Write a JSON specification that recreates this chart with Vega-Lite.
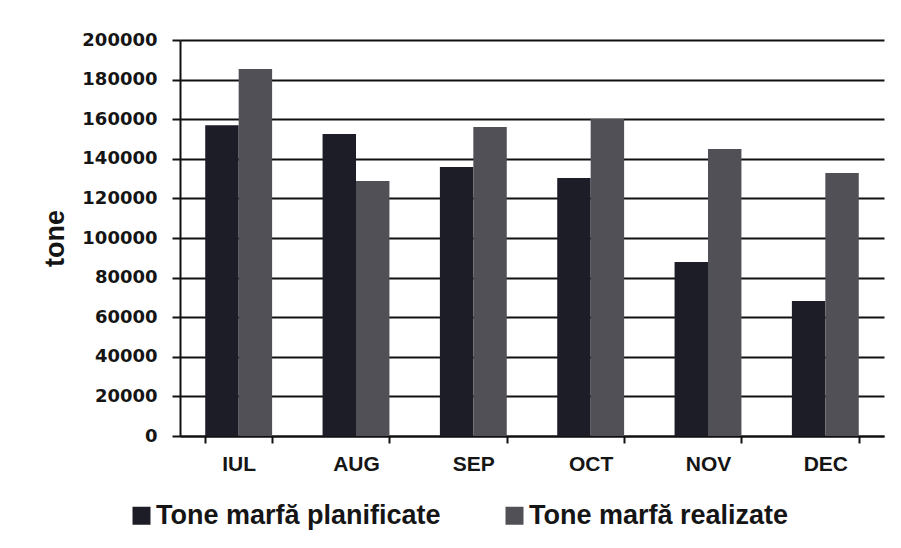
{
  "$schema": "https://vega.github.io/schema/vega-lite/v6.json",
  "width": 704,
  "height": 396,
  "autosize": {"type": "none"},
  "padding": {"left": 180, "top": 40, "right": 17, "bottom": 112},
  "background": "white",
  "config": {
    "font": "Liberation Sans",
    "view": {"stroke": null}
  },
  "data": {
    "values": [
      {"luna": "IUL", "serie": "Tone marfă planificate", "tone": 157000},
      {"luna": "IUL", "serie": "Tone marfă realizate", "tone": 185300},
      {"luna": "AUG", "serie": "Tone marfă planificate", "tone": 152500},
      {"luna": "AUG", "serie": "Tone marfă realizate", "tone": 128800},
      {"luna": "SEP", "serie": "Tone marfă planificate", "tone": 135900},
      {"luna": "SEP", "serie": "Tone marfă realizate", "tone": 156000},
      {"luna": "OCT", "serie": "Tone marfă planificate", "tone": 130300},
      {"luna": "OCT", "serie": "Tone marfă realizate", "tone": 160100},
      {"luna": "NOV", "serie": "Tone marfă planificate", "tone": 87900},
      {"luna": "NOV", "serie": "Tone marfă realizate", "tone": 145000},
      {"luna": "DEC", "serie": "Tone marfă planificate", "tone": 68200},
      {"luna": "DEC", "serie": "Tone marfă realizate", "tone": 132800}
    ]
  },
  "mark": {"type": "bar"},
  "encoding": {
    "x": {
      "field": "luna",
      "type": "nominal",
      "sort": ["IUL", "AUG", "SEP", "OCT", "NOV", "DEC"],
      "scale": {"paddingInner": 0.43, "paddingOuter": 0.215},
      "axis": {
        "title": null,
        "labelAngle": 0,
        "labelFont": "Liberation Sans",
        "labelFontWeight": "bold",
        "labelFontSize": 21,
        "labelColor": "#151515",
        "labelPadding": 10,
        "domainColor": "#111",
        "domainWidth": 2,
        "tickColor": "#111",
        "tickWidth": 2,
        "tickBand": "extent",
        "tickSize": 7,
        "grid": false
      }
    },
    "xOffset": {
      "field": "serie",
      "type": "nominal",
      "scale": {"paddingInner": 0}
    },
    "y": {
      "field": "tone",
      "type": "quantitative",
      "scale": {"domain": [0, 200000]},
      "axis": {
        "title": "tone",
        "titleFont": "Liberation Sans",
        "titleFontWeight": "bold",
        "titleFontSize": 27,
        "titleColor": "#151515",
        "titlePadding": 12,
        "values": [0, 20000, 40000, 60000, 80000, 100000, 120000, 140000, 160000, 180000, 200000],
        "format": "d",
        "labelFont": "DejaVu Sans",
        "labelFontWeight": "bold",
        "labelFontSize": 18,
        "labelColor": "#151515",
        "labelPadding": 15,
        "domainColor": "#111",
        "domainWidth": 2,
        "tickColor": "#111",
        "tickWidth": 2,
        "tickSize": 8,
        "grid": true,
        "gridColor": "#111",
        "gridWidth": 2,
        "gridOpacity": 1
      }
    },
    "color": {
      "field": "serie",
      "type": "nominal",
      "scale": {
        "domain": ["Tone marfă planificate", "Tone marfă realizate"],
        "range": ["#1d1d27", "#505056"]
      },
      "legend": {
        "title": null,
        "orient": "none",
        "direction": "horizontal",
        "legendX": -52,
        "legendY": 462,
        "symbolType": "square",
        "symbolSize": 324,
        "symbolStrokeWidth": 0,
        "symbolOpacity": 1,
        "labelFont": "Liberation Sans",
        "labelFontWeight": "bold",
        "labelFontSize": 27,
        "labelColor": "#151515",
        "labelLimit": 500,
        "labelOffset": 1,
        "columnPadding": 60
      }
    }
  }
}
